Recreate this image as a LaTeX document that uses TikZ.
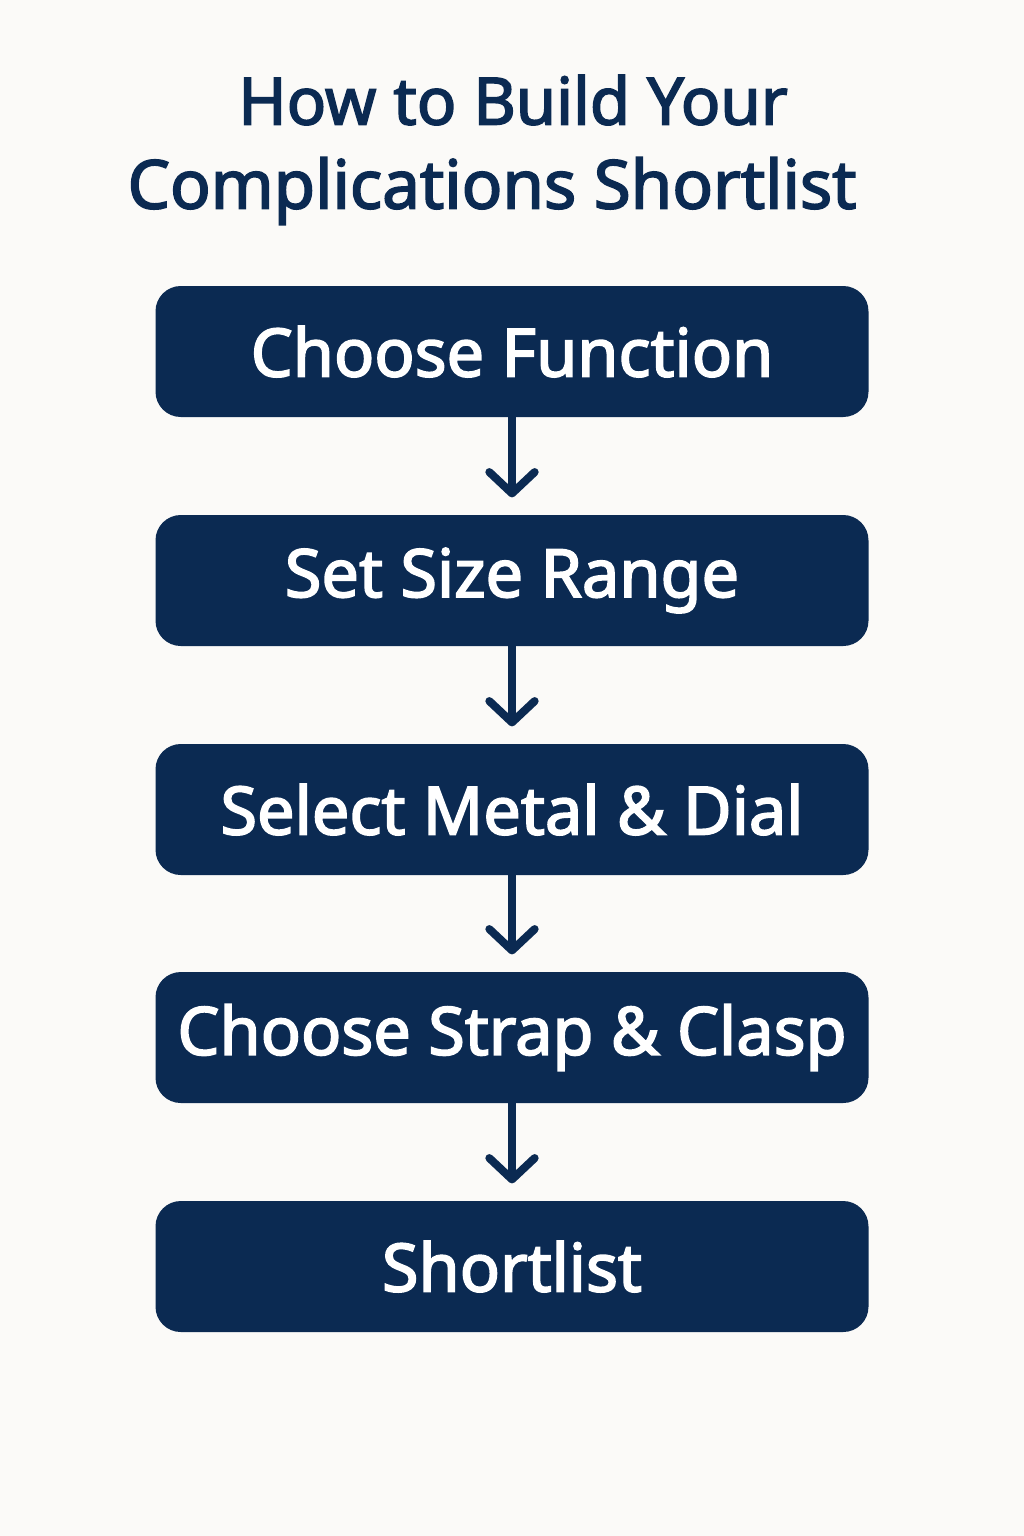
\documentclass[tikz,border=0pt]{standalone}
\usepackage{fontspec}
\setmainfont{Noto Sans}[FakeBold=2.5]
\usetikzlibrary{arrows.meta}
\definecolor{navy}{HTML}{0B2A52}
\definecolor{bg}{HTML}{FBFAF8}
\tikzset{
  stepbox/.style={draw=none, fill=navy, rounded corners=19pt, minimum width=534.75pt, minimum height=98.25pt, text=white, font=\fontsize{50}{60}\selectfont, inner sep=0pt},
  flow/.style={draw=navy, line width=6pt, -{Straight Barb[length=16pt, width=34pt, line width=6pt, round]}, line cap=round, shorten >=13pt},
  titletext/.style={text=navy, font=\fontsize{49}{64}\selectfont}
}
\begin{document}
\begin{tikzpicture}[x=0.75pt, y=-0.75pt]
  \fill[bg] (0,0) rectangle (1024,1536);
  \useasboundingbox (0,0) rectangle (1024,1536);
  \node[titletext] (title1) at (513,100) {How to Build Your};
  \node[titletext, font=\fontsize{50.5}{64}\selectfont] (title2) at (492,191) {Complications Shortlist};
  \node[stepbox] (s1) at (512,351.5) {Choose Function};
  \node[stepbox] (s2) at (512,580.5) {Set Size Range};
  \node[stepbox] (s3) at (512,809.5) {Select Metal \& Dial};
  \node[stepbox] (s4) at (512,1037.5) {Choose Strap \& Clasp};
  \node[stepbox] (s5) at (512,1266.5) {Shortlist};
  \draw[flow] (s1.south) -- (s2.north);
  \draw[flow] (s2.south) -- (s3.north);
  \draw[flow] (s3.south) -- (s4.north);
  \draw[flow] (s4.south) -- (s5.north);
\end{tikzpicture}
\end{document}
